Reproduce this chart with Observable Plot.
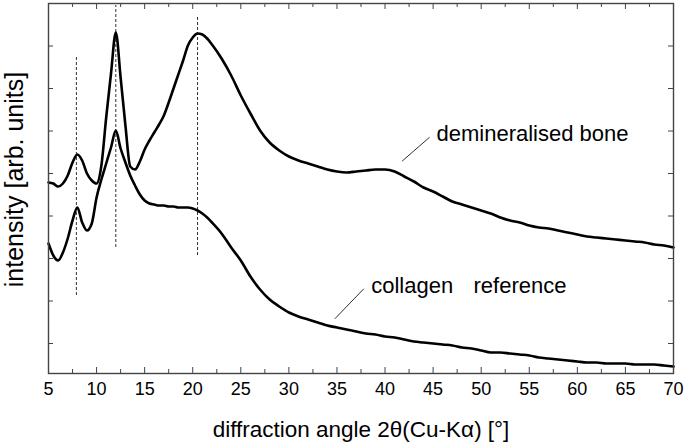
<!DOCTYPE html>
<html>
<head>
<meta charset="utf-8">
<script src="https://cdn.jsdelivr.net/npm/d3@7"></script>
<script src="https://cdn.jsdelivr.net/npm/@observablehq/plot@0.6"></script>
<style>
  html, body { margin: 0; padding: 0; background: white; }
</style>
</head>
<body>
<div id="chart"></div>
<script>
// diffraction angle 2θ [°]
const angle = [5,5.5,6,6.5,7,7.5,8,8.5,9,9.5,10,10.5,11,11.5,12,12.5,13,13.5,14,14.5,15,15.5,16,16.5,17,17.5,18,18.5,19,19.5,20,20.5,21,21.5,22,
  23,24,25,26,27,28,29,30,31,32,33,34,35,36,37,38,39,40,41,42,43,44,45,46,47,48,49,50,51,52,53,54,55,56,57,58,59,60,61,62,63,64,65,66,67,68,69,70];

// intensity [arb. units] — demineralised bone
const boneIntensity = [191,190,187,190,198,211,219,213,200,193,190,208,256,300,341,296,248,207,204,212,224,233,241,249,258,271,285,299,313,328,336,340,339,335,329,
  315,298,278,260,243,231,223,217,213,210,207,204,202,201,202,203,204,204,202,197,192,186,182,177,172,169,166,163,160,156,153,151,148,146,145,143,141,139,137,136,135,134,133,132,131,129,128,126];

// intensity [arb. units] — collagen reference
const collagenIntensity = [130,118,113,121,135,153,166,151,143,150,176,194,210,226,243,225,211,198,188,179,173,170,169,168,168,167,167,166,166,166,165,163,160,156,151,
  140,126,113,97,84,74,67,61,57,54,51,48,46,44,42,40,39,37,36,34,32,31,30,29,28,26,25,23,21,21,20,19,18,16,15,14,13,12,11,11,10,10,10,9,9,9,8,7];

// x tick labels and tick positions
const xTickLabels = [5,10,15,20,25,30,35,40,45,50,55,60,65,70];
const xMinorTicks = [7.5,12.5,17.5,22.5,27.5,32.5,37.5,42.5,47.5,52.5,57.5,62.5,67.5];
const yTicks = [30,72.5,115,157.5,200,242.5,285,327.5];

// dashed reference lines at the peak positions
const peakAngle = [7.9,12,20.5];
const peakLow = [78,126,118];
const peakHigh = [318,368,358];

// annotations
const labels = ["demineralised bone", "collagen", "reference"];
const labelAngle = [45.35, 38.56, 49.2];
const labelIntensity = [240, 88, 88];
const leaderAngle1 = [41.77, 34.78];
const leaderInt1 = [212.3, 54.7];
const leaderAngle2 = [44.64, 37.79];
const leaderInt2 = [236.3, 84.7];

const W = 685, H = 443, mL = 48, mR = 12, mT = 3, mB = 70;
const fw = W - mL - mR, fh = H - mT - mB;
const axisColor = "#444";

const chart = Plot.plot({
  width: W, height: H,
  marginLeft: mL, marginRight: mR, marginTop: mT, marginBottom: mB,
  x: {domain: [5, 70], axis: null},
  y: {domain: [0, 370], axis: null},
  style: {fontFamily: "'Liberation Sans', Arial, sans-serif", background: "white", color: "black"},
  marks: [
    Plot.axisX(xTickLabels, {tickSize: 0, tickPadding: 9, fontSize: 18, label: null, fill: "black"}),
    // bottom ticks (inward)
    Plot.ruleX(xTickLabels, {x: d => d, stroke: axisColor, strokeWidth: 1, insetTop: fh - 6}),
    Plot.ruleX(xMinorTicks, {x: d => d, stroke: axisColor, strokeWidth: 1, insetTop: fh - 4}),
    // top ticks (inward)
    Plot.ruleX(xTickLabels, {x: d => d, stroke: axisColor, strokeWidth: 1, insetBottom: fh - 6}),
    Plot.ruleX(xMinorTicks, {x: d => d, stroke: axisColor, strokeWidth: 1, insetBottom: fh - 4}),
    // left/right ticks (inward)
    Plot.ruleY(yTicks, {y: d => d, stroke: axisColor, strokeWidth: 1, insetRight: fw - 5}),
    Plot.ruleY(yTicks, {y: d => d, stroke: axisColor, strokeWidth: 1, insetLeft: fw - 5}),
    // dashed peak markers
    Plot.ruleX(peakAngle, {x: peakAngle, y1: peakLow, y2: peakHigh, stroke: "#333", strokeWidth: 1, strokeDasharray: "3,2"}),
    // curves
    Plot.line(angle, {x: angle, y: boneIntensity, stroke: "black", strokeWidth: 2.6, curve: "monotone-x"}),
    Plot.line(angle, {x: angle, y: collagenIntensity, stroke: "black", strokeWidth: 2.6, curve: "monotone-x"}),
    // leaders
    Plot.link(leaderAngle1, {x1: leaderAngle1, y1: leaderInt1, x2: leaderAngle2, y2: leaderInt2, stroke: "#333", strokeWidth: 1}),
    // annotation texts
    Plot.text(labels, {x: labelAngle, y: labelIntensity, text: labels, textAnchor: "start", lineAnchor: "middle", fontSize: 22, fill: "black"}),
    Plot.frame({stroke: axisColor, strokeWidth: 1.4}),
    // axis titles
    Plot.text(["diffraction angle 2θ(Cu-Kα) [°]"], {frameAnchor: "bottom", lineAnchor: "bottom", dy: 63, fontSize: 22.5, fill: "black"}),
    Plot.text(["intensity [arb. units]"], {frameAnchor: "left", rotate: -90, dx: -34, dy: -9, textAnchor: "middle", lineAnchor: "middle", fontSize: 25, fill: "black"})
  ]
});
document.getElementById("chart").appendChild(chart);
</script>
</body>
</html>
